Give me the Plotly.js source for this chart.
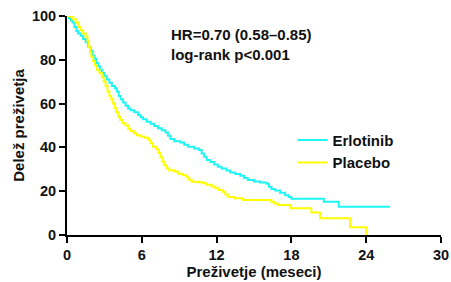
<!DOCTYPE html>
<html>
<head>
<meta charset="utf-8">
<script src="https://cdn.plot.ly/plotly-3.0.1.min.js"></script>
<style>html,body{margin:0;padding:0;background:#fff}#chart{width:451px;height:282px}</style>
</head>
<body>
<div id="chart"></div>
<script>
const erlotinibMonths = [0, 0.15, 0.3, 0.45, 0.6, 0.75, 0.9, 1.1, 1.3, 1.5, 1.7, 1.9, 2.05, 2.2, 2.35, 2.5, 2.65, 2.8, 3.0, 3.2, 3.4, 3.6, 3.85, 4.0, 4.15, 4.3, 4.5, 4.7, 4.9, 5.1, 5.4, 5.7, 5.9, 6.1, 6.4, 6.7, 7.0, 7.3, 7.6, 7.9, 8.1, 8.3, 8.6, 9.1, 9.4, 9.7, 10.2, 10.6, 10.8, 11.0, 11.2, 11.5, 11.8, 12.1, 12.4, 12.8, 13.1, 13.5, 13.9, 14.2, 14.5, 15.0, 15.5, 16.0, 16.2, 16.4, 16.7, 17.1, 17.5, 17.8, 18.0, 20.6, 21.8, 25.9];
const erlotinibSurv   = [100, 99, 98, 97, 95, 93, 92, 91, 89.5, 88, 86, 84, 82, 80.5, 78.5, 77, 75.5, 74, 72.5, 71, 69.5, 68, 67, 65.5, 63.5, 62, 60.5, 59, 57.8, 57, 56, 54.8, 53.8, 52.8, 51.7, 50.8, 49.8, 48.8, 47.8, 46.8, 45.3, 43.8, 42.8, 42.2, 41.2, 40.3, 39.5, 38.8, 37.2, 35.7, 34.2, 33.3, 32.2, 31.2, 30.4, 29.5, 28.5, 27.8, 27.1, 26, 25.1, 24.4, 24, 23.4, 22, 21, 20.3, 19.3, 18.2, 17.4, 16.6, 15.2, 12.9, 12.9];
const placeboMonths = [0, 0.3, 0.5, 0.7, 0.9, 1.07, 1.3, 1.5, 1.65, 1.75, 1.85, 1.95, 2.1, 2.25, 2.4, 2.6, 2.8, 2.95, 3.1, 3.25, 3.4, 3.55, 3.7, 3.85, 3.95, 4.1, 4.25, 4.45, 4.7, 4.9, 5.1, 5.35, 5.6, 5.9, 6.2, 6.5, 6.7, 6.9, 7.15, 7.35, 7.5, 7.65, 7.8, 8.0, 8.2, 8.6, 8.9, 9.3, 9.6, 9.8, 10.0, 10.5, 10.9, 11.2, 11.6, 11.9, 12.2, 12.5, 12.7, 12.9, 13.4, 14.1, 16.4, 16.6, 16.9, 17.9, 19.6, 20.3, 22.7, 24.0];
const placeboSurv   = [100, 99.5, 98.5, 97, 95, 93.5, 92, 90.5, 88.5, 86, 83.5, 81.5, 79.5, 77.5, 75.5, 74, 72, 70, 68, 65.5, 63.5, 62, 60, 58, 56, 54, 52.5, 51, 50, 48.5, 47.5, 46.5, 45.6, 45, 44.4, 43.5, 42, 40.3, 39.2, 37.5, 35.5, 33.5, 31.8, 30.5, 29.6, 29, 28, 27.3, 26.4, 25.2, 24.3, 24.1, 23.6, 22.9, 22.2, 21.4, 20.6, 19.8, 18.5, 17.3, 16.8, 16.0, 15.2, 14.4, 13.7, 12.2, 10.3, 7.6, 3.5, 0];
const seriesNames = ["Erlotinib", "Placebo"];
const xTicks = [0, 6, 12, 18, 24, 30];
const yTicks = [0, 20, 40, 60, 80, 100];
const statsText = ["HR=0.70 (0.58–0.85)", "log-rank p<0.001"];

const fam = "Arial, 'Liberation Sans', sans-serif";
const b = s => "<b>" + s + "</b>";
const traces = [
  {x: erlotinibMonths, y: erlotinibSurv, name: b(seriesNames[0]), mode: "lines", line: {shape: "hv", color: "#1EF5F5", width: 2}},
  {x: placeboMonths, y: placeboSurv, name: b(seriesNames[1]), mode: "lines", line: {shape: "hv", color: "#FFFF00", width: 2}}
];
const axisCommon = {
  showgrid: false, zeroline: false, showline: true, linecolor: "#000", linewidth: 2,
  ticks: "outside", ticklen: 6, tickwidth: 2, tickcolor: "#000",
  tickfont: {family: fam, size: 14.5, color: "#111"}
};
const layout = {
  width: 451, height: 282,
  margin: {l: 67, r: 10, t: 16, b: 47},
  paper_bgcolor: "#fff", plot_bgcolor: "#fff",
  font: {family: fam, color: "#111"},
  xaxis: Object.assign({}, axisCommon, {
    range: [0, 30], tickvals: xTicks, ticktext: xTicks.map(v => b(String(v))),
    title: {text: b("Preživetje (meseci)"), font: {family: fam, size: 15, color: "#111"}, standoff: 3}
  }),
  yaxis: Object.assign({}, axisCommon, {
    range: [0, 100], tickvals: yTicks, ticktext: yTicks.map(v => b(String(v))),
    title: {text: b("Delež preživetja"), font: {family: fam, size: 15, color: "#111"}, standoff: 4}
  }),
  showlegend: true,
  legend: {x: 0.603, y: 0.508, xanchor: "left", yanchor: "top", bgcolor: "rgba(0,0,0,0)",
    font: {family: fam, size: 15, color: "#111"}},
  annotations: [{
    xref: "paper", yref: "paper", x: 0.273, y: 0.871, xanchor: "left", yanchor: "middle",
    text: statsText.map(b).join("<br>"), showarrow: false, align: "left",
    font: {family: fam, size: 15, color: "#111"}
  }]
};
Plotly.newPlot("chart", traces, layout, {displayModeBar: false, staticPlot: true});
</script>
</body>
</html>
